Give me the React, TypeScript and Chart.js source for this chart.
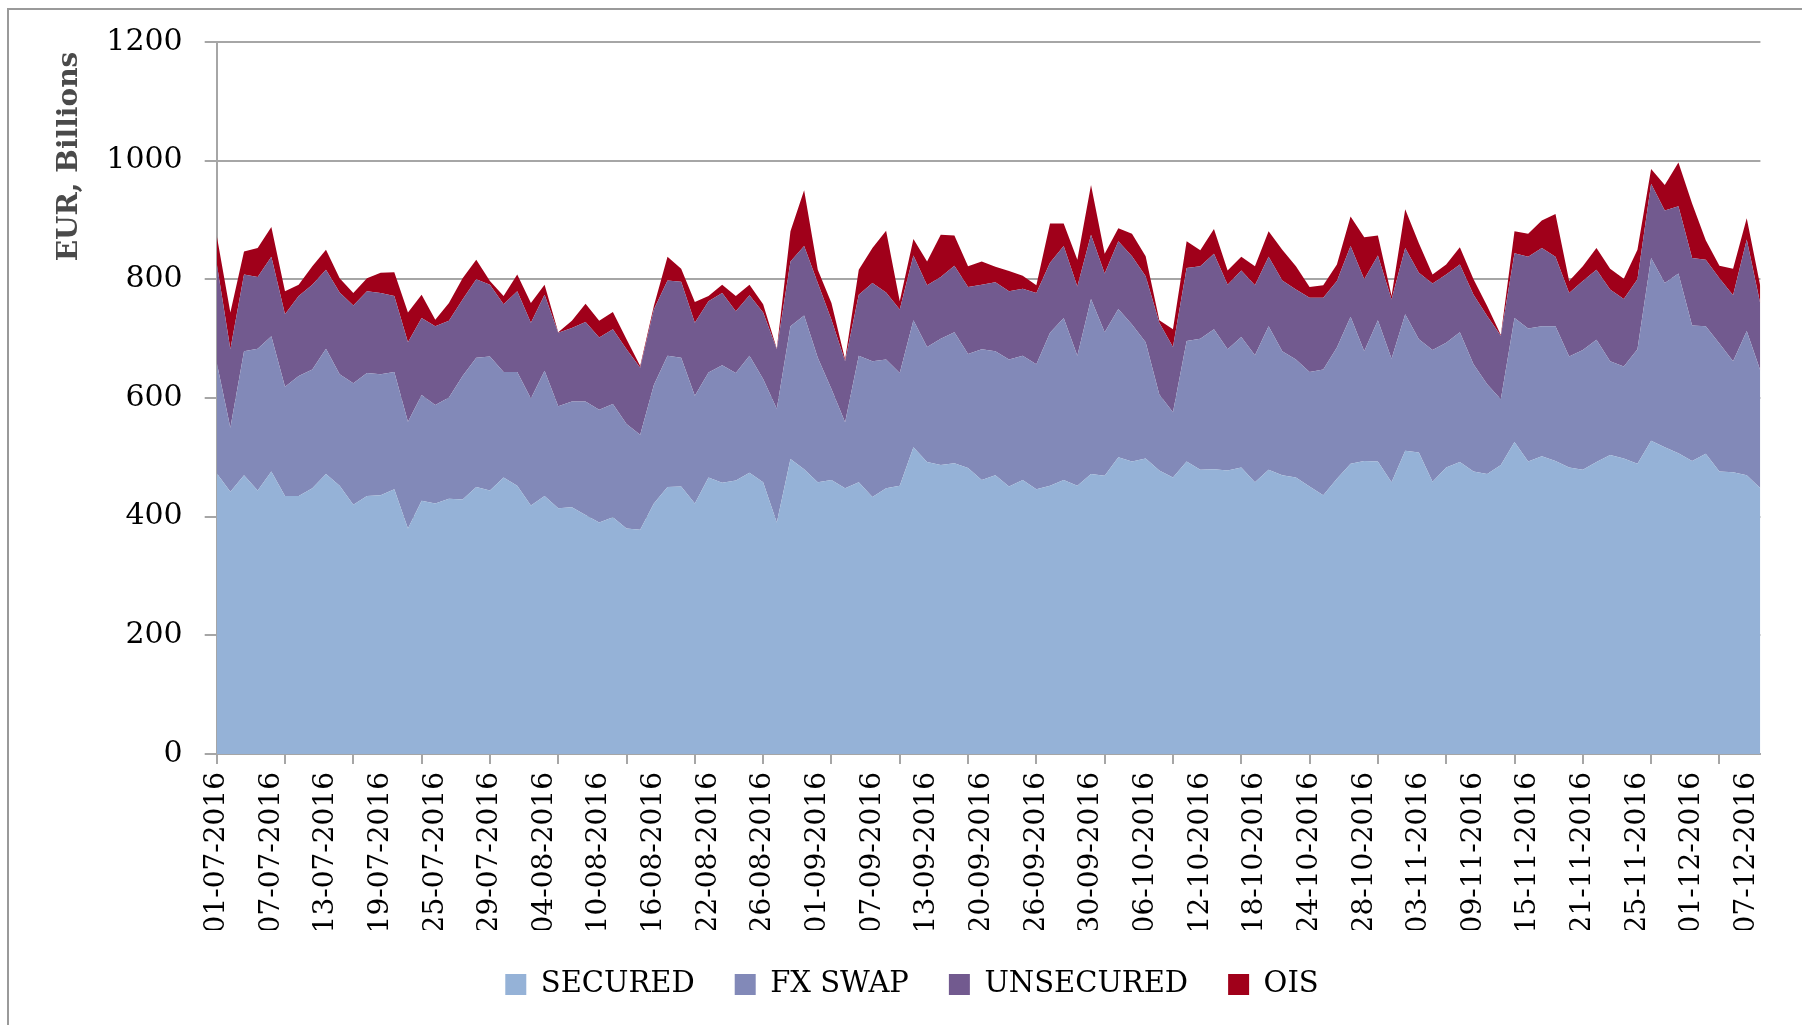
import React, { useEffect, useRef } from "react";
import { Chart, registerables } from "chart.js";

Chart.register(...registerables);

// ---------- data (EUR billions, business days 01-07-2016 .. 08-12-2016) ----------
const DATES: string[] = [
  "01-07-2016", "04-07-2016", "05-07-2016", "06-07-2016", "07-07-2016", "08-07-2016", "11-07-2016", "12-07-2016",
  "13-07-2016", "14-07-2016", "15-07-2016", "18-07-2016", "19-07-2016", "20-07-2016", "21-07-2016", "22-07-2016",
  "25-07-2016", "26-07-2016", "27-07-2016", "28-07-2016", "29-07-2016",
  "01-08-2016", "02-08-2016", "03-08-2016", "04-08-2016", "05-08-2016", "08-08-2016", "09-08-2016", "10-08-2016",
  "11-08-2016", "12-08-2016", "15-08-2016", "16-08-2016", "17-08-2016", "18-08-2016", "19-08-2016", "22-08-2016",
  "23-08-2016", "24-08-2016", "25-08-2016", "26-08-2016", "29-08-2016", "30-08-2016", "31-08-2016",
  "01-09-2016", "02-09-2016", "05-09-2016", "06-09-2016", "07-09-2016", "08-09-2016", "09-09-2016", "12-09-2016",
  "13-09-2016", "14-09-2016", "15-09-2016", "19-09-2016", "20-09-2016", "21-09-2016", "22-09-2016", "23-09-2016",
  "26-09-2016", "27-09-2016", "28-09-2016", "29-09-2016", "30-09-2016",
  "03-10-2016", "04-10-2016", "05-10-2016", "06-10-2016", "07-10-2016", "10-10-2016", "11-10-2016", "12-10-2016",
  "13-10-2016", "14-10-2016", "17-10-2016", "18-10-2016", "19-10-2016", "20-10-2016", "21-10-2016", "24-10-2016",
  "25-10-2016", "26-10-2016", "27-10-2016", "28-10-2016", "31-10-2016",
  "01-11-2016", "02-11-2016", "03-11-2016", "04-11-2016", "07-11-2016", "08-11-2016", "09-11-2016", "10-11-2016",
  "11-11-2016", "14-11-2016", "15-11-2016", "16-11-2016", "17-11-2016", "18-11-2016", "21-11-2016", "22-11-2016",
  "23-11-2016", "24-11-2016", "25-11-2016", "28-11-2016", "29-11-2016", "30-11-2016",
  "01-12-2016", "02-12-2016", "05-12-2016", "06-12-2016", "07-12-2016", "08-12-2016",
];

const SECURED: number[] = [
  473, 442, 470, 444, 476, 435, 435, 448, 472, 452,
  420, 435, 436, 446, 380, 427, 422, 430, 429, 450,
  444, 466, 452, 419, 435, 414, 416, 403, 390, 399,
  380, 378, 422, 450, 451, 422, 466, 457, 461, 474,
  458, 390, 497, 480, 458, 462, 448, 458, 433, 448,
  452, 517, 492, 487, 490, 482, 462, 470, 451, 462,
  446, 452, 462, 452, 472, 469, 500, 493, 498, 478,
  466, 493, 479, 480, 478, 483, 458, 479, 470, 466,
  451, 436, 464, 489, 494, 493, 458, 511, 508, 459,
  483, 492, 476, 472, 487, 526, 493, 502, 494, 483,
  479, 492, 504, 498, 489, 528, 517, 507, 494, 506,
  476, 475, 470, 448,
];

const FX_SWAP: number[] = [
  187, 108, 209, 239, 228, 184, 202, 200, 211, 188,
  205, 207, 204, 198, 180, 178, 166, 171, 208, 218,
  226, 178, 192, 180, 211, 172, 178, 191, 190, 191,
  176, 160, 200, 221, 217, 182, 177, 198, 181, 197,
  174, 192, 224, 259, 210, 153, 111, 213, 229, 217,
  190, 214, 194, 213, 221, 192, 220, 209, 214, 209,
  211, 258, 273, 219, 295, 242, 250, 231, 196, 128,
  110, 203, 221, 236, 204, 220, 214, 242, 209, 199,
  193, 212, 221, 248, 185, 238, 208, 230, 191, 222,
  210, 219, 181, 151, 111, 209, 224, 219, 227, 187,
  202, 206, 158, 155, 193, 308, 277, 303, 228, 215,
  216, 187, 243, 198,
];

const UNSECURED: number[] = [
  167, 132, 129, 121, 134, 122, 135, 143, 133, 138,
  131, 138, 137, 128, 134, 130, 133, 129, 129, 132,
  121, 114, 136, 128, 128, 124, 124, 134, 122, 126,
  126, 113, 127, 127, 128, 123, 120, 122, 104, 102,
  112, 100, 109, 117, 126, 117, 103, 103, 132, 113,
  107, 109, 104, 104, 112, 113, 109, 116, 115, 113,
  120, 118, 121, 117, 108, 99, 114, 115, 111, 121,
  110, 123, 122, 127, 109, 112, 118, 117, 119, 118,
  125, 121, 112, 119, 121, 109, 100, 112, 112, 112,
  115, 114, 117, 115, 107, 109, 121, 132, 117, 107,
  116, 118, 121, 114, 118, 125, 122, 113, 114, 112,
  110, 111, 154, 112,
];

const OIS: number[] = [
  47, 62, 39, 49, 50, 39, 19, 31, 34, 24,
  21, 22, 34, 40, 50, 39, 11, 30, 36, 33,
  6, 14, 28, 33, 17, 1, 12, 31, 28, 29,
  17, 3, 6, 40, 22, 35, 9, 14, 26, 18,
  14, 1, 51, 94, 22, 28, 3, 42, 59, 104,
  14, 28, 40, 71, 51, 35, 39, 26, 34, 22,
  13, 66, 38, 45, 84, 33, 22, 38, 34, 4,
  30, 45, 27, 42, 24, 23, 32, 43, 52, 39,
  18, 21, 28, 50, 71, 34, 6, 65, 50, 15,
  17, 29, 26, 17, 1, 37, 39, 46, 72, 20,
  25, 37, 35, 34, 50, 25, 43, 74, 92, 33,
  21, 45, 36, 30,
];

const SERIES_NAMES: string[] = ["SECURED", "FX SWAP", "UNSECURED", "OIS"];
const SERIES_COLORS: string[] = ["#95B2D7", "#8289B8", "#725A8F", "#A0001A"];
const SERIES_VALUES: number[][] = [SECURED, FX_SWAP, UNSECURED, OIS];

const Y_MIN = 0;
const Y_MAX = 1200;
const Y_STEP = 200;
const LABEL_EVERY = 4;
const TICK_MARK_EVERY = 5;
const Y_TITLE = "EUR, Billions ";

// ---------- layout ----------
const W = 1802;
const H = 1025;
const PAD_LEFT = 52;
const PLOT_LEFT = 216.7;
const FONT = "'DejaVu Serif', 'Liberation Serif', serif";
const AXIS_GRAY = "#a6a6a6";

export default function App() {
  const ref = useRef<HTMLCanvasElement>(null);

  useEffect(() => {
    if (!ref.current) return;
    const chart = new Chart(ref.current, {
      type: "line",
      data: {
        labels: DATES,
        datasets: SERIES_NAMES.map((name, i) => ({
          label: name,
          data: SERIES_VALUES[i],
          backgroundColor: SERIES_COLORS[i],
          borderColor: "transparent",
          borderWidth: 0,
          pointRadius: 0,
          pointHoverRadius: 0,
          tension: 0,
          fill: i === 0 ? "origin" : "-1",
        })),
      },
      options: {
        responsive: false,
        devicePixelRatio: 1,
        animation: false,
        layout: { padding: { left: PAD_LEFT, top: 42, right: 30, bottom: 16 } },
        plugins: {
          tooltip: { enabled: false },
          legend: {
            position: "bottom",
            labels: {
              boxWidth: 21,
              boxHeight: 21,
              padding: 40,
              color: "#000",
              font: { family: FONT, size: 29 },
            },
          },
        },
        scales: {
          x: {
            type: "category",
            offset: false,
            ticks: {
              autoSkip: false,
              minRotation: 90,
              maxRotation: 90,
              padding: 8,
              color: "#000",
              font: { family: FONT, size: 28 },
              callback: (_v: any, i: number) => (i % LABEL_EVERY === 0 ? DATES[i] : ""),
            },
            grid: {
              offset: false,
              drawOnChartArea: false,
              drawTicks: true,
              tickLength: 10,
              lineWidth: 2,
              color: AXIS_GRAY,
              tickColor: (ctx: any) => (ctx.index % TICK_MARK_EVERY === 0 ? AXIS_GRAY : "rgba(0,0,0,0)"),
            },
            border: { display: true, color: AXIS_GRAY, width: 2 },
            afterFit: (s: any) => {
              s.height = 176;
            },
          },
          y: {
            stacked: true,
            min: Y_MIN,
            max: Y_MAX,
            ticks: {
              stepSize: Y_STEP,
              padding: 22,
              color: "#000",
              font: { family: FONT, size: 30 },
              callback: (v: any) => String(v),
            },
            grid: {
              color: AXIS_GRAY,
              lineWidth: 2,
              tickLength: 12,
              tickColor: AXIS_GRAY,
            },
            border: { display: true, color: AXIS_GRAY, width: 2 },
            title: {
              display: true,
              text: Y_TITLE,
              align: "end",
              color: "#4a4a4a",
              font: { family: FONT, size: 28, weight: "bold" },
              padding: { top: 1, bottom: 0 },
            },
            afterFit: (s: any) => {
              s.width = PLOT_LEFT - PAD_LEFT;
            },
          },
        },
      } as any,
    });
    return () => chart.destroy();
  }, []);

  return (
    <div style={{ position: "fixed", left: 0, top: 0, width: W, height: H, background: "#fff", overflow: "hidden" }}>
      <canvas ref={ref} width={W} height={H} style={{ display: "block", width: W, height: H }} />
      <div
        style={{
          position: "absolute",
          left: 7,
          top: 8,
          width: W,
          height: H,
          borderLeft: "2px solid #9a9a9a",
          borderTop: "2px solid #9a9a9a",
          pointerEvents: "none",
        }}
      />
    </div>
  );
}
